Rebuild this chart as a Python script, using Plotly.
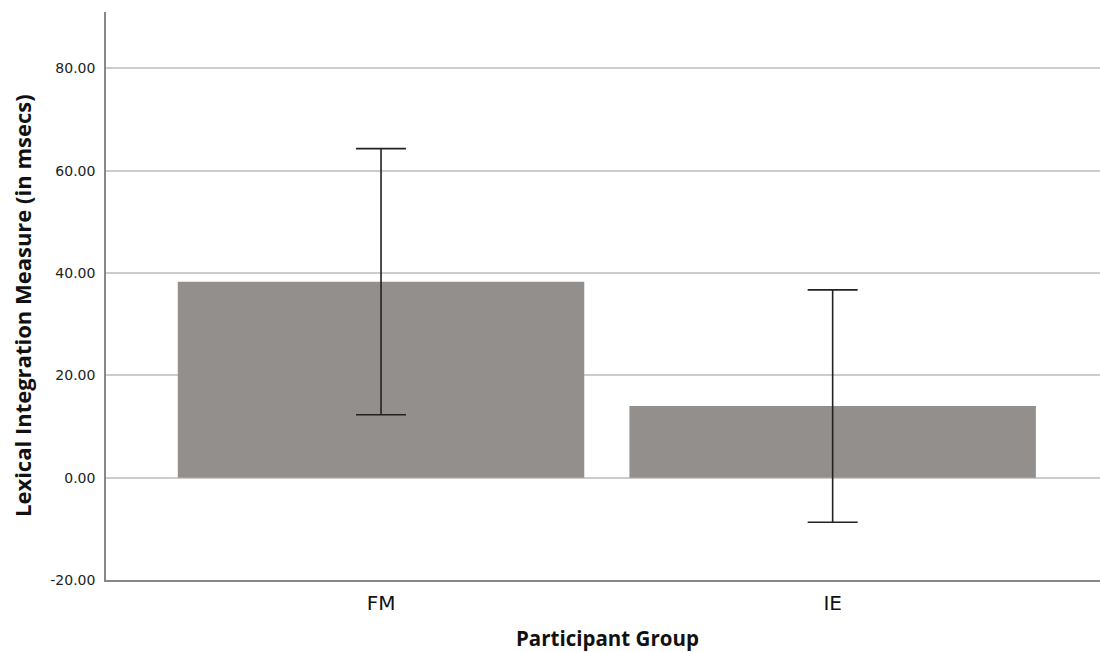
import plotly.graph_objects as go

# Group means with confidence-interval half-widths
groups = ["FM", "IE"]
means = [38.3, 14.0]
ci_half = [26.0, 22.7]

y_ticks = [-20, 0, 20, 40, 60, 80]
y_tick_text = ["-20.00", "0.00", "20.00", "40.00", "60.00", "80.00"]

x_title = "Participant Group"
y_title = "Lexical Integration Measure (in msecs)"

fig = go.Figure(
    go.Bar(
        x=groups,
        y=means,
        width=0.9,
        marker=dict(color="#928f8d", line=dict(width=0)),
        error_y=dict(
            type="data",
            array=ci_half,
            visible=True,
            color="#222222",
            thickness=1.6,
            width=25,
        ),
    )
)

fig.update_layout(
    width=1100,
    height=652,
    margin=dict(l=106, r=0, t=12, b=72),
    paper_bgcolor="white",
    plot_bgcolor="white",
    showlegend=False,
    font=dict(family="DejaVu Sans", color="#222222"),
)

fig.update_xaxes(
    type="category",
    range=[-0.609, 1.592],
    showgrid=False,
    showline=True,
    linecolor="#888888",
    linewidth=1.5,
    ticks="outside",
    ticklen=4,
    tickcolor="rgba(0,0,0,0)",
    tickfont=dict(family="DejaVu Sans", size=20, color="#111111"),
)

fig.update_yaxes(
    range=[-20, 91],
    tickvals=y_ticks,
    ticktext=y_tick_text,
    showgrid=True,
    gridcolor="#cccccc",
    gridwidth=1.5,
    zeroline=True,
    zerolinecolor="#cccccc",
    zerolinewidth=1.5,
    showline=True,
    linecolor="#888888",
    linewidth=1.5,
    ticks="outside",
    ticklen=6,
    tickcolor="rgba(0,0,0,0)",
    tickfont=dict(family="DejaVu Sans", size=14, color="#222222"),
)

# Axis titles placed as annotations relative to the plot area
title_font = dict(family="Open Sans", size=21, color="#111111", weight="bold")
fig.add_annotation(
    text=x_title, xref="paper", yref="paper",
    x=(607 - 106) / 994, y=(580 - 638) / 568,
    xanchor="center", yanchor="middle", showarrow=False,
    font=dict(title_font, size=20.5),
)
fig.add_annotation(
    text=y_title, xref="paper", yref="paper",
    x=(22 - 106) / 994, y=(580 - 306) / 568,
    xanchor="center", yanchor="middle", textangle=-90, showarrow=False,
    font=dict(title_font, size=22),
)

fig.write_html("out.html")
